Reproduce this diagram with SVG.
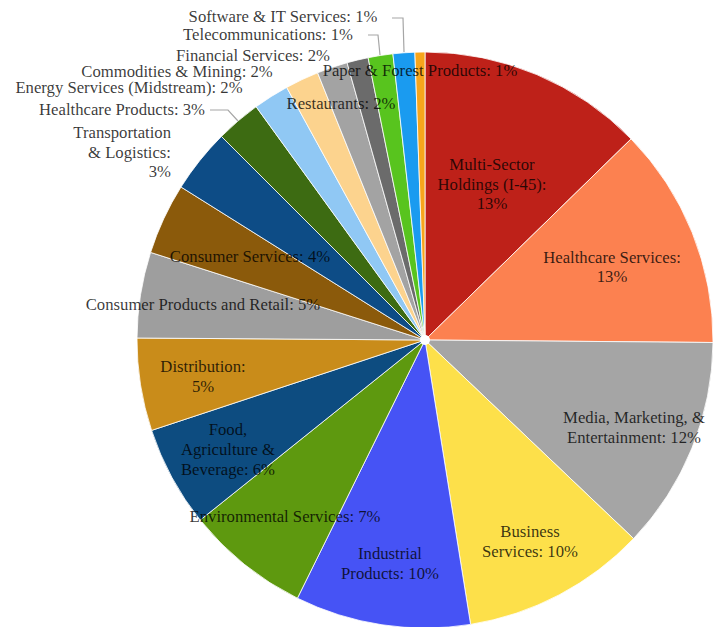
<svg xmlns="http://www.w3.org/2000/svg" width="717" height="627" viewBox="0 0 717 627">
<style>
.s{stroke:#ffffff;stroke-width:0.8;stroke-linejoin:round}
text{font-family:"Liberation Serif","Times New Roman",serif;font-size:16.7px;fill:#000;fill-opacity:0.78;text-anchor:middle}
.r{text-anchor:end}
.lead{fill:none;stroke:#A6A6A6;stroke-width:1.2}
</style>
<rect width="717" height="627" fill="#ffffff"/>
<g id="slices">
<g id="slice-multi-sector"><path class="s" fill="#BE2119" d="M425,340 L425,52 A288,288 0 0 1 631.1,138.9 Z"/></g>
<g id="slice-healthcare-services"><path class="s" fill="#FC8150" d="M425,340 L631.1,138.9 A288,288 0 0 1 713,342.5 Z"/></g>
<g id="slice-media"><path class="s" fill="#A5A5A5" d="M425,340 L713,342.5 A288,288 0 0 1 633.6,538.6 Z"/></g>
<g id="slice-business"><path class="s" fill="#FDE04A" d="M425,340 L633.6,538.6 A288,288 0 0 1 470.6,624.4 Z"/></g>
<g id="slice-industrial"><path class="s" fill="#4653F5" d="M425,340 L470.6,624.4 A288,288 0 0 1 297.4,598.2 Z"/></g>
<g id="slice-environmental"><path class="s" fill="#5E990F" d="M425,340 L297.4,598.2 A288,288 0 0 1 200.2,520.1 Z"/></g>
<g id="slice-food"><path class="s" fill="#0D4C80" d="M425,340 L200.2,520.1 A288,288 0 0 1 151.6,430.4 Z"/></g>
<g id="slice-distribution"><path class="s" fill="#C98C1A" d="M425,340 L151.6,430.4 A288,288 0 0 1 137,338 Z"/></g>
<g id="slice-consumer-products"><path class="s" fill="#9E9E9E" d="M425,340 L137,338 A288,288 0 0 1 150.6,252.4 Z"/></g>
<g id="slice-consumer-services"><path class="s" fill="#8B5A0B" d="M425,340 L150.6,252.4 A288,288 0 0 1 181,187 Z"/></g>
<g id="slice-transportation"><path class="s" fill="#0D4C86" d="M425,340 L181,187 A288,288 0 0 1 221.4,136.4 Z"/></g>
<g id="slice-healthcare-products"><path class="s" fill="#3D6B12" d="M425,340 L221.4,136.4 A288,288 0 0 1 256.1,106.7 Z"/></g>
<g id="slice-energy"><path class="s" fill="#90C8F4" d="M425,340 L256.1,106.7 A288,288 0 0 1 286.7,87.4 Z"/></g>
<g id="slice-commodities"><path class="s" fill="#FCD38E" d="M425,340 L286.7,87.4 A288,288 0 0 1 317.6,72.8 Z"/></g>
<g id="slice-financial"><path class="s" fill="#A3A3A3" d="M425,340 L317.6,72.8 A288,288 0 0 1 347.1,62.7 Z"/></g>
<g id="slice-restaurants"><path class="s" fill="#6B6B6B" d="M425,340 L347.1,62.7 A288,288 0 0 1 368.1,57.7 Z"/></g>
<g id="slice-telecom"><path class="s" fill="#58C41E" d="M425,340 L368.1,57.7 A288,288 0 0 1 392.9,53.8 Z"/></g>
<g id="slice-software"><path class="s" fill="#1A9BF0" d="M425,340 L392.9,53.8 A288,288 0 0 1 414.9,52.2 Z"/></g>
<g id="slice-paper"><path class="s" fill="#F7A51C" d="M425,340 L414.9,52.2 A288,288 0 0 1 425,52 Z"/></g>
<circle cx="425" cy="340" r="5" fill="#ffffff"/>
</g>
<g id="connectors">
<polyline class="lead" points="392,18 403,18 404,52"/>
<polyline class="lead" points="368,35 378,35 380,55"/>
<polyline class="lead" points="210,110 228,110 238,121"/>
</g>
<g id="labels">
<g id="label-multi-sector">
<text x="492" y="170">Multi-Sector</text>
<text x="492" y="190">Holdings (I-45):</text>
<text x="492" y="209">13%</text>
</g>
<g id="label-healthcare-services">
<text x="612" y="263">Healthcare Services:</text>
<text x="612" y="282">13%</text>
</g>
<g id="label-media">
<text x="634" y="423">Media, Marketing, &amp;</text>
<text x="634" y="443">Entertainment: 12%</text>
</g>
<g id="label-business">
<text x="530" y="537">Business</text>
<text x="530" y="557">Services: 10%</text>
</g>
<g id="label-industrial">
<text x="390" y="559">Industrial</text>
<text x="390" y="579">Products: 10%</text>
</g>
<g id="label-environmental"><text x="285" y="522">Environmental Services: 7%</text></g>
<g id="label-food">
<text x="228" y="435">Food,</text>
<text x="228" y="455">Agriculture &amp;</text>
<text x="228" y="475">Beverage: 6%</text>
</g>
<g id="label-distribution">
<text x="203" y="372">Distribution:</text>
<text x="203" y="392">5%</text>
</g>
<g id="label-consumer-products"><text x="203" y="310">Consumer Products and Retail: 5%</text></g>
<g id="label-consumer-services"><text x="250" y="262">Consumer Services: 4%</text></g>
<g id="label-transportation">
<text class="r" x="171" y="138">Transportation</text>
<text class="r" x="171" y="158">&amp; Logistics:</text>
<text class="r" x="171" y="177">3%</text>
</g>
<g id="label-healthcare-products"><text x="122" y="115">Healthcare Products: 3%</text></g>
<g id="label-energy"><text x="129" y="93">Energy Services (Midstream): 2%</text></g>
<g id="label-commodities"><text x="177" y="77">Commodities &amp; Mining: 2%</text></g>
<g id="label-financial"><text x="253" y="61">Financial Services: 2%</text></g>
<g id="label-telecom"><text x="268" y="40">Telecommunications: 1%</text></g>
<g id="label-software"><text x="283" y="22">Software &amp; IT Services: 1%</text></g>
<g id="label-paper"><text x="420" y="76">Paper &amp; Forest Products: 1%</text></g>
<g id="label-restaurants"><text x="341" y="109">Restaurants: 2%</text></g>
</g>
</svg>
